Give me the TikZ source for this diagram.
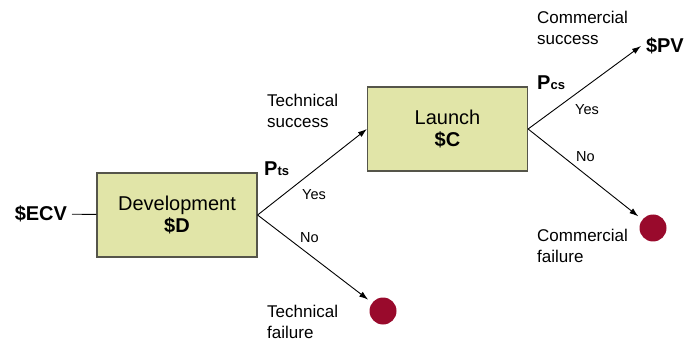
\documentclass[tikz,border=0pt]{standalone}
\usepackage{fontspec}
\setmainfont{Liberation Sans}
\usetikzlibrary{arrows.meta}

\definecolor{stagefill}{HTML}{E1E5A8}
\definecolor{stageline}{HTML}{55554A}
\definecolor{faildot}{HTML}{990A2C}

\begin{document}
\begin{tikzpicture}[
    x=1pt, y=-1pt,
    stage/.style={rectangle,draw=stageline,fill=stagefill,line width=1.2pt,minimum width=160pt,minimum height=84pt,align=center,font=\fontsize{20}{22}\selectfont},
    outcome/.style={circle,fill=faildot,minimum size=27pt,inner sep=0pt},
    branch/.style={line width=0.9pt,-{Latex[length=9pt,width=6pt]}},
    lbl/.style={font=\fontsize{17}{21}\selectfont,align=left,inner sep=0pt,anchor=north west},
    answer/.style={font=\fontsize{14.5}{17}\selectfont,inner sep=0pt,anchor=west},
    prob/.style={font=\bfseries\fontsize{20}{22}\selectfont,inner sep=0pt,anchor=base west},
    value/.style={font=\bfseries\fontsize{20}{22}\selectfont,inner sep=0pt,outer sep=5pt}
]
    \useasboundingbox (0,0) rectangle (684,344);

    % Stages of the decision tree
    \node[stage] (dev)    at (177,215)   {Development\\\textbf{\$D}};
    \node[stage] (launch) at (447.5,129) {Launch\\\textbf{\$C}};

    % Values and failure ends
    \node[value,anchor=east] (ecv) at (72,214) {\$ECV};
    \node[value,anchor=west] (pv)  at (641,46) {\$PV};
    \node[outcome] (tfail) at (383,311) {};
    \node[outcome] (cfail) at (653,228) {};

    % Connectors
    \draw[line width=0.9pt] (ecv) -- (dev);
    \draw[branch] (dev.east) -- (launch.west);
    \draw[branch,shorten >=5pt] (dev.east) -- (tfail);
    \draw[branch] (launch.east) -- (pv.west);
    \draw[branch,shorten >=5pt] (launch.east) -- (cfail);

    % Labels
    \node[lbl] (tsucc) at (267,94)  {Technical\\success};
    \node[lbl] (tfl)   at (267,305) {Technical\\failure};
    \node[lbl] (csucc) at (537,11)  {Commercial\\success};
    \node[lbl] (cfl)   at (537,229) {Commercial\\failure};
    \node[prob] (pts) at (264,176) {P{\fontsize{13}{15}\selectfont ts}};
    \node[prob] (pcs) at (537,90)  {P{\fontsize{13}{15}\selectfont cs}};
    \node[answer] (tyes) at (302,195) {Yes};
    \node[answer] (tno)  at (300,238) {No};
    \node[answer] (cyes) at (575,110) {Yes};
    \node[answer] (cno)  at (576,157) {No};
\end{tikzpicture}
\end{document}
